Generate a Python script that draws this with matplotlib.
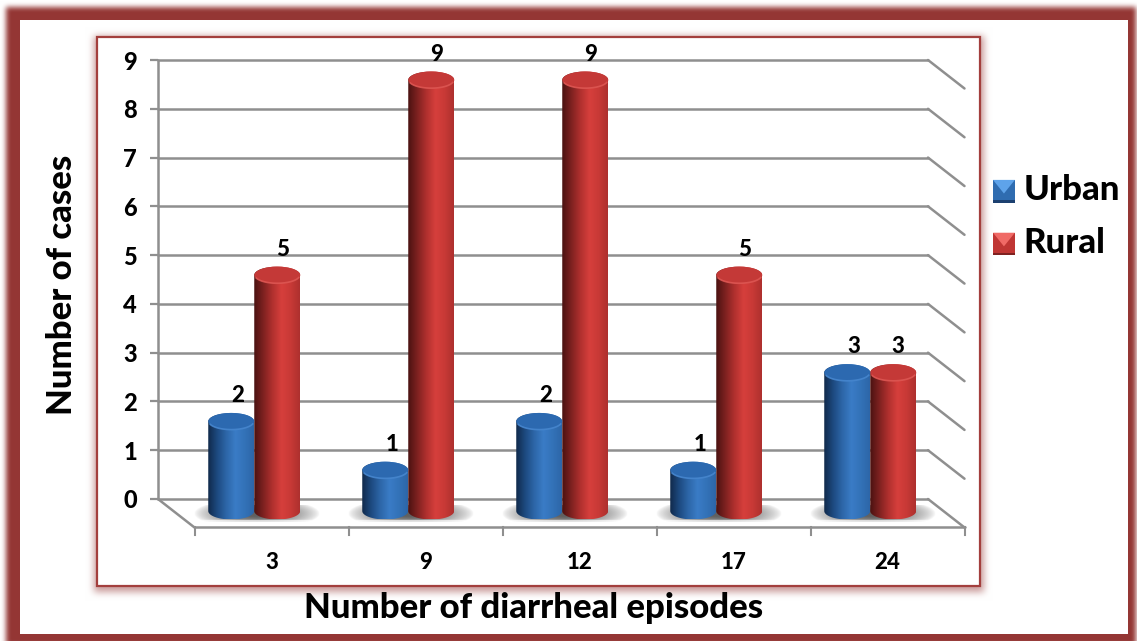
import numpy as np
import matplotlib
matplotlib.use('Agg')
import matplotlib.pyplot as plt
from matplotlib.colors import LinearSegmentedColormap
from matplotlib.legend_handler import HandlerBase
from matplotlib.patches import Ellipse, PathPatch, Patch, Polygon
from matplotlib.path import Path

episodes = ['3', '9', '12', '17', '24']
urban = [2, 1, 2, 1, 3]
rural = [5, 9, 9, 5, 3]
y_ticks = [0, 1, 2, 3, 4, 5, 6, 7, 8, 9]

W, H = 1137, 641
FRAME = '#943634'
GRID = '#8f8f8f'
WEIGHT = 'black'

plt.rcParams['font.family'] = ['Lato', 'DejaVu Sans']

fig = plt.figure(figsize=(W / 100, H / 100), dpi=100, facecolor='white')


def blur(mask, size):
    # box blur run three times, close enough to a gaussian
    kernel = np.ones(size) / size
    for _ in range(3):
        mask = np.apply_along_axis(lambda r: np.convolve(r, kernel, mode='same'), 0, mask)
        mask = np.apply_along_axis(lambda r: np.convolve(r, kernel, mode='same'), 1, mask)
    return mask


def rect_mask(x0, y0, x1, y1):
    m = np.zeros((H + 60, W + 60))
    m[y0 + 30:y1 + 30, x0 + 30:x1 + 30] = 1.0
    return m


# page background: outer frame and the panel with its soft shadow
frame_rgb = np.array(matplotlib.colors.to_rgb(FRAME))
page = np.ones((H, W, 3))
outer = blur(rect_mask(6, 7, 1136, 645), 5)[30:-30, 30:-30]
outer[20:634, 20:1128] = 0
shadow = blur(rect_mask(94, 36, 984, 592), 7)[30:-30, 30:-30] * 0.5
shadow[20:634, :20] = 0
for a in (shadow, outer):
    page = page * (1 - a[..., None]) + frame_rgb * a[..., None]
page[37:586, 97:980] = 1.0
bg = fig.add_axes([0, 0, 1, 1], zorder=0)
bg.imshow(page, extent=(0, W, H, 0), aspect='auto', interpolation='bilinear')
bg.add_patch(plt.Rectangle((97, 37), 883, 549, fill=False, ec='#a33f3d', lw=1.6))
bg.set_xlim(0, W)
bg.set_ylim(H, 0)
bg.axis('off')

# the axes box is the back wall of the 3D chart
ax = fig.add_axes([158 / W, 1 - 499 / H, 770 / W, 439 / H], zorder=1)
ax.patch.set_alpha(0)
ax.set_xlim(0, 5)
ax.set_ylim(0, 9)
for s in ax.spines.values():
    s.set_visible(False)

# floor depth in data units
DX = 36.5 / 154
DY = -28.5 / 48.8
n = len(episodes)
line = dict(color=GRID, lw=1.8, solid_capstyle='round', clip_on=False, zorder=1)
for v in y_ticks:
    ax.plot([0, n], [v, v], **line)
    ax.plot([n, n + DX], [v, v + DY], **line)
ax.plot([0, 0], [0, 9], **line)
ax.plot([0, DX], [0, DY], **line)
ax.plot([DX, n + DX], [DY, DY], **line)
for i in range(n + 1):
    ax.plot([i + DX, i + DX], [DY, DY - 8 / 48.8], color=GRID, lw=1.5, clip_on=False, zorder=1)

ax.set_xticks([])
ax.set_yticks(y_ticks)
ax.set_yticklabels([str(v) for v in y_ticks], fontsize=17, fontweight=WEIGHT)
ax.tick_params(axis='y', length=6, width=1.6, color=GRID, pad=9)

blue_map = LinearSegmentedColormap.from_list('b', ['#10294a', '#1d4a80', '#2d66a8', '#3a7cc6', '#3372b8', '#2d66a8'])
red_map = LinearSegmentedColormap.from_list('r', ['#4a1211', '#7d2120', '#b0302e', '#d63f3c', '#c83936', '#ad302e'])

BAR_W = 46 / 154
EH = 8.5 / 48.8       # half height of the cylinder ends
TOP_DROP = 20 / 48.8  # bars stand half way into the floor
BASE = -12 / 48.8
NUDGE = 1 / 154


def cylinder(x0, value, cmap, top_color, rim_color, z):
    top = value - TOP_DROP
    cx = x0 + BAR_W / 2
    t = np.linspace(np.pi, 2 * np.pi, 40)
    xs = cx + BAR_W / 2 * np.cos(t)
    low = BASE + EH * np.sin(t)
    verts = list(zip(xs, low)) + list(zip(xs[::-1], top - EH * np.sin(t[::-1])))
    body = PathPatch(Path(verts + [verts[0]]), fc='none', ec='none', zorder=z, clip_on=False)
    ax.add_patch(body)
    grad = np.linspace(0, 1, 256).reshape(1, -1)
    im = ax.imshow(grad, cmap=cmap, extent=(x0, x0 + BAR_W, BASE - EH, top + EH),
                   aspect='auto', zorder=z, interpolation='bilinear')
    im.set_clip_box(fig.bbox)
    im.set_clip_path(body)
    cap = Ellipse((cx, top), BAR_W, 2 * EH, fc=top_color, ec='none', zorder=z + 0.1, clip_on=False)
    ax.add_patch(cap)
    arc = np.linspace(np.pi * 1.12, np.pi * 1.9, 30)
    ax.plot(cx + BAR_W / 2 * np.cos(arc) * 0.98, top + EH * np.sin(arc) * 0.96, color=rim_color,
            lw=1.2, alpha=0.8, zorder=z + 0.2, clip_on=False)


def floor_shadow(x0, x1):
    # soft grey pool lying on the floor around a pair of bars
    xx, yy = np.meshgrid(np.linspace(-1, 1, 160), np.linspace(-1, 1, 40))
    a = np.clip(1.25 - np.sqrt(xx ** 2 + (yy * 0.55) ** 2) * 1.25, 0, 1) ** 0.7
    a[yy > 0.75] *= 0.25
    rgba = np.zeros((40, 160, 4))
    rgba[..., :3] = 0.38
    rgba[..., 3] = a
    im = ax.imshow(rgba, extent=(x0, x1, BASE - 11 / 48.8, BASE + 6 / 48.8), aspect='auto', zorder=1.5,
                   interpolation='bilinear', origin='upper')
    im.set_clip_box(fig.bbox)


for i in range(n):
    split = i + 0.5 + DX / 2 + NUDGE
    floor_shadow(split - BAR_W - 14 / 154, split + BAR_W + 20 / 154)
    cylinder(split, rural[i], red_map, '#c43937', '#e05a56', 2)
    cylinder(split - BAR_W, urban[i], blue_map, '#2c69b0', '#4a8ad2', 3)
    ax.text(split - BAR_W / 2 + 7 / 154, urban[i] + 0.12, str(urban[i]), ha='center', va='center',
            fontsize=16, fontweight=WEIGHT, zorder=5, clip_on=False)
    ax.text(split + BAR_W / 2 + 5 / 154, rural[i] + 0.12, str(rural[i]), ha='center', va='center',
            fontsize=16, fontweight=WEIGHT, zorder=5, clip_on=False)
    ax.text(i + 0.5 + DX, DY - 35 / 48.8, episodes[i], ha='center', va='center',
            fontsize=16, fontweight=WEIGHT, clip_on=False)

ax.set_ylim(0, 9)
ax.set_xlim(0, 5)

ax.set_xlabel('Number of diarrheal episodes', fontsize=25, fontweight=WEIGHT)
ax.xaxis.set_label_coords((534 - 158) / 770, -(592 - 499) / 439)
ax.set_ylabel('Number of cases', fontsize=25, fontweight=WEIGHT)
ax.yaxis.set_label_coords(-(158 - 78) / 770, (499 - 285) / 439)


class BevelHandler(HandlerBase):
    def __init__(self, top, side, bottom):
        super().__init__()
        self.shades = (top, side, bottom)

    def create_artists(self, legend, orig_handle, xdescent, ydescent, width, height, fontsize, trans):
        # swatch sits a little lower than the label's box
        drop = 0.1 * fontsize
        x0, y0, x1, y1 = -xdescent, -ydescent - drop, width - xdescent, height - ydescent - drop
        xm, ym = (x0 + x1) / 2, y0 + 0.4 * (y1 - y0)
        top, side, bottom = self.shades
        tris = [([(x0, y0), (x1, y0), (x1, y1), (x0, y1)], side),
                ([(x0, y1), (x1, y1), (xm, ym)], top),
                ([(x0, y0), (x1, y0), (x1, y0 + 0.1 * (y1 - y0)), (x0, y0 + 0.1 * (y1 - y0))], bottom)]
        return [Polygon(p, closed=True, fc=c, ec='none', transform=trans) for p, c in tris]


h_urban = Patch(label='Urban')
h_rural = Patch(label='Rural')
fig.legend(handles=[h_urban, h_rural],
           handler_map={h_urban: BevelHandler('#5ea3ea', '#2f6cb0', '#1c4070'),
                        h_rural: BevelHandler('#f06a66', '#c03634', '#7f2221')},
           loc='upper left', bbox_to_anchor=(993 / W, 1 - 174 / H), frameon=False, borderpad=0,
           borderaxespad=0, prop={'family': 'Lato', 'weight': WEIGHT, 'size': 25},
           handlelength=0.63, handleheight=0.63, handletextpad=0.25, labelspacing=0.6)

fig.savefig('out.png', dpi=100)
